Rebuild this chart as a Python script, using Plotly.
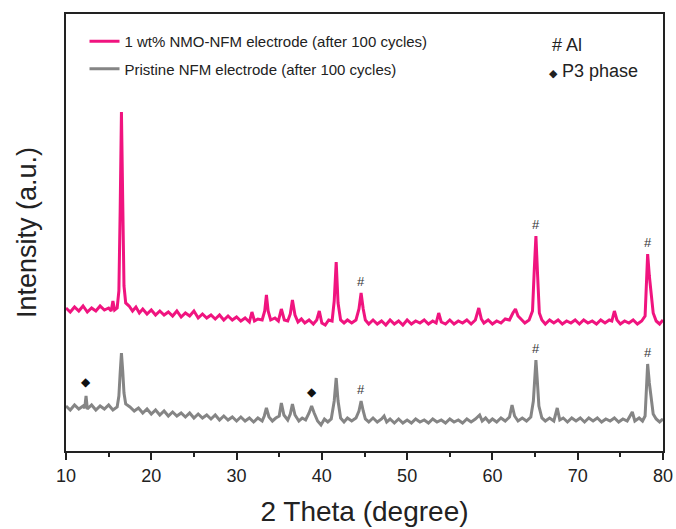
import plotly.graph_objects as go

# ---- data (2 Theta in degree, intensity in a.u., offset stacked) ----
nmo_x = [10.0, 10.5, 11.0, 11.5, 12.0, 12.5, 13.0, 13.5, 14.0, 14.5, 15.0, 15.3, 15.5, 15.7, 16.0,
         16.2, 16.35, 16.5, 16.65, 16.8, 17.0, 17.4, 17.8, 18.2, 18.6, 19.0, 19.5, 20.0, 20.5, 21.0,
         21.5, 22.0, 22.5, 23.0, 23.5, 24.0, 24.5, 25.0, 25.5, 26.0, 26.5, 27.0, 27.5, 28.0, 28.5,
         29.0, 29.5, 30.0, 30.5, 31.0, 31.5, 31.8, 32.1, 32.5, 33.0, 33.3, 33.5, 33.7, 34.0, 34.5,
         34.9, 35.25, 35.6, 36.0, 36.3, 36.55, 36.85, 37.2, 37.6, 38.0, 38.5, 39.0, 39.4, 39.7, 40.0,
         40.4, 40.8, 41.2, 41.45, 41.68, 41.9, 42.2, 42.6, 43.0, 43.5, 44.0, 44.35, 44.6, 44.85, 45.1,
         45.5, 46.0, 46.5, 47.0, 47.5, 48.0, 48.5, 49.0, 49.5, 50.0, 50.5, 51.0, 51.5, 52.0, 52.5,
         53.0, 53.4, 53.7, 54.0, 54.5, 55.0, 55.5, 56.0, 56.5, 57.0, 57.5, 58.0, 58.4, 58.7, 59.0,
         59.5, 60.0, 60.5, 61.0, 61.5, 62.0, 62.4, 62.7, 63.0, 63.4, 63.8, 64.3, 64.7, 64.9, 65.1,
         65.3, 65.5, 65.8, 66.2, 66.7, 67.2, 67.7, 68.2, 68.7, 69.2, 69.7, 70.2, 70.7, 71.2, 71.7,
         72.2, 72.7, 73.2, 73.7, 74.0, 74.3, 74.6, 75.0, 75.5, 76.0, 76.5, 77.0, 77.5, 77.9, 78.05,
         78.2, 78.4, 78.6, 78.85, 79.2, 79.6, 80.0]
nmo_y = [153, 149, 154, 150, 155, 149, 153, 150, 155, 151, 153, 150, 160, 151, 153,
         170, 250, 349, 260, 175, 158, 155, 150, 154, 148, 152, 147, 151, 146, 150,
         146, 149, 145, 150, 144, 148, 145, 150, 143, 147, 143, 146, 142, 146, 141,
         145, 141, 144, 140, 143, 139, 149, 140, 142, 141, 150, 166, 150, 141, 143,
         140, 152, 141, 140, 147, 161, 146, 139, 142, 138, 141, 137, 141, 150, 138,
         136, 141, 140, 160, 199, 158, 141, 138, 141, 138, 141, 152, 168, 152, 141,
         137, 141, 137, 140, 136, 141, 137, 140, 136, 141, 137, 140, 138, 141, 137,
         140, 138, 148, 139, 137, 141, 137, 140, 138, 141, 137, 141, 153, 142, 138,
         141, 137, 140, 138, 142, 141, 148, 152, 145, 141, 138, 141, 150, 190, 225,
         185, 148, 141, 137, 141, 138, 141, 137, 140, 138, 141, 137, 141, 138, 140,
         137, 141, 138, 141, 140, 150, 141, 137, 140, 138, 141, 137, 140, 145, 180,
         207, 185, 165, 148, 140, 137, 141]

nfm_x = [10.0, 10.5, 11.0, 11.5, 12.0, 12.2, 12.35, 12.5, 13.0, 13.5, 14.0, 14.5, 15.0, 15.5, 16.0,
         16.2, 16.35, 16.5, 16.65, 16.8, 17.0, 17.5, 18.0, 18.5, 19.0, 19.5, 20.0, 20.5, 21.0, 21.5,
         22.0, 22.5, 23.0, 23.5, 24.0, 24.5, 25.0, 25.5, 26.0, 26.5, 27.0, 27.5, 28.0, 28.5, 29.0,
         29.5, 30.0, 30.5, 31.0, 31.5, 32.0, 32.5, 33.0, 33.25, 33.5, 33.8, 34.2, 34.6, 35.0, 35.25,
         35.55, 36.0, 36.3, 36.55, 36.85, 37.3, 37.7, 38.1, 38.5, 38.8, 39.1, 39.5, 39.9, 40.3, 40.7,
         41.1, 41.45, 41.68, 41.9, 42.2, 42.6, 43.0, 43.5, 44.0, 44.35, 44.6, 44.85, 45.1, 45.5, 46.0,
         46.5, 47.0, 47.3, 47.6, 48.0, 48.5, 49.0, 49.5, 50.0, 50.5, 51.0, 51.5, 52.0, 52.5, 53.0,
         53.5, 54.0, 54.5, 55.0, 55.5, 56.0, 56.5, 57.0, 57.5, 58.0, 58.5, 58.8, 59.2, 59.6, 60.0,
         60.5, 61.0, 61.5, 62.0, 62.3, 62.6, 63.0, 63.5, 64.0, 64.5, 64.8, 64.95, 65.1, 65.25, 65.45,
         65.8, 66.2, 66.7, 67.2, 67.6, 67.9, 68.3, 68.8, 69.3, 69.8, 70.3, 70.8, 71.3, 71.8, 72.3,
         72.8, 73.3, 73.8, 74.3, 74.8, 75.3, 75.8, 76.4, 76.7, 77.2, 77.6, 77.9, 78.05, 78.2, 78.4,
         78.6, 78.85, 79.2, 79.6, 80.0]
nfm_y = [55, 51, 56, 52, 55, 53, 65, 52, 56, 51, 55, 52, 56, 51, 54,
         65, 88, 108, 90, 68, 57, 54, 50, 53, 48, 52, 47, 51, 46, 50,
         45, 49, 45, 48, 44, 48, 43, 47, 43, 46, 42, 46, 41, 45, 41,
         44, 40, 44, 40, 43, 39, 43, 40, 45, 53, 44, 40, 43, 45, 58,
         46, 41, 47, 57, 46, 40, 43, 41, 48, 55, 48, 40, 36, 42, 39,
         42, 60, 83, 60, 43, 39, 43, 40, 43, 50, 60, 50, 42, 39, 43,
         39, 42, 45, 39, 42, 38, 42, 38, 41, 38, 42, 39, 41, 38, 42,
         39, 41, 38, 42, 39, 41, 38, 42, 39, 42, 46, 40, 43, 39, 42,
         39, 43, 40, 44, 56, 45, 40, 43, 40, 44, 60, 85, 101, 82, 55,
         43, 40, 43, 40, 53, 41, 43, 39, 43, 40, 43, 39, 43, 40, 43,
         39, 42, 40, 43, 39, 42, 40, 49, 40, 43, 40, 45, 75, 97, 78,
         62, 47, 42, 39, 42]

series_names = ["1 wt% NMO-NFM electrode (after 100 cycles)",
                "Pristine NFM electrode (after 100 cycles)"]
al_peaks = [44.6, 65.1, 78.2]      # marked with "#"
p3_peaks = [12.35, 38.8]           # marked with diamond (pristine only)

x_ticks = [10, 20, 30, 40, 50, 60, 70, 80]

PINK = "#F0147F"
GRAY = "#858585"
FONT = "Liberation Sans, Arial, sans-serif"

fig = go.Figure()
fig.add_trace(go.Scatter(x=nmo_x, y=nmo_y, mode="lines", name=series_names[0],
                         line=dict(color=PINK, width=3), legendgroup="a"))
fig.add_trace(go.Scatter(x=nfm_x, y=nfm_y, mode="lines", name=series_names[1],
                         line=dict(color=GRAY, width=3), legendgroup="b"))


def peak_top(xs, ys, x0, w=0.4):
    return max(y for x, y in zip(xs, ys) if abs(x - x0) <= w)


annotations = []
for p in al_peaks:
    for xs, ys in ((nmo_x, nmo_y), (nfm_x, nfm_y)):
        annotations.append(dict(x=p, y=peak_top(xs, ys, p), text="#", showarrow=False,
                                yshift=12, font=dict(size=13, color="#333333", family=FONT)))
for p in p3_peaks:
    annotations.append(dict(x=p, y=peak_top(nfm_x, nfm_y, p), text="◆", showarrow=False,
                            yshift=14, font=dict(size=12, color="#111111", family="DejaVu Sans")))

annotations.append(dict(xref="paper", yref="paper", x=0.810, y=0.929, xanchor="left",
                        yanchor="middle", text="# Al", showarrow=False,
                        font=dict(size=18, color="#222222", family=FONT)))
annotations.append(dict(xref="paper", yref="paper", x=0.806, y=0.869, xanchor="left",
                        yanchor="middle",
                        text="<span style='font-size:11px'>◆</span> P3 phase", showarrow=False,
                        font=dict(size=18, color="#222222", family=FONT)))

fig.update_layout(
    width=676, height=529,
    margin=dict(l=66, r=13, t=14, b=78),
    paper_bgcolor="white", plot_bgcolor="white",
    font=dict(family=FONT, color="#222222"),
    showlegend=True,
    legend=dict(x=0.031, y=0.975, xanchor="left", yanchor="top",
                bgcolor="rgba(0,0,0,0)", font=dict(size=15, color="#222222", family=FONT),
                traceorder="grouped", tracegroupgap=5),
    annotations=annotations,
)
fig.update_xaxes(range=[10, 80], tickvals=x_ticks, ticks="outside", ticklen=7, tickwidth=1.5,
                 tickcolor="#222222", showline=True, linecolor="#222222", linewidth=1.8,
                 mirror=True, showgrid=False, zeroline=False, automargin=False,
                 tickfont=dict(size=18, color="#222222", family=FONT),
                 minor=dict(tickvals=[15, 25, 35, 45, 55, 65, 75], ticks="outside", ticklen=4,
                            tickwidth=1.5, tickcolor="#222222"),
                 title=dict(text="2 Theta (degree)", font=dict(size=28, color="#222222", family=FONT),
                            standoff=17))
fig.update_yaxes(range=[10, 447], showticklabels=False, ticks="", showline=True,
                 linecolor="#222222", linewidth=1.8, mirror=True, showgrid=False, zeroline=False,
                 automargin=False,
                 title=dict(text="Intensity (a.u.)", font=dict(size=27, color="#222222", family=FONT),
                            standoff=20))

# remove the browser's default 8 px body margin so the figure fills the window exactly
fig.write_html("out.html", config={"displayModeBar": False},
               post_script="document.body.style.margin='0';document.body.style.overflow='hidden';")
